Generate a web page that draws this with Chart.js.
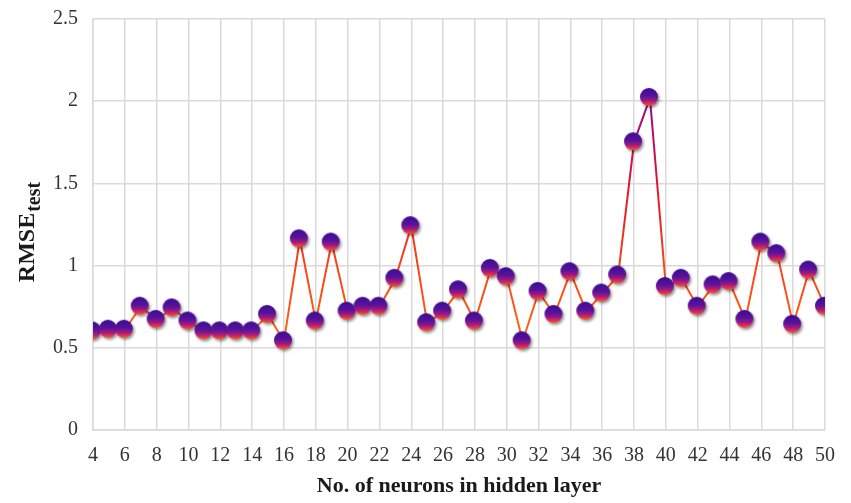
<!DOCTYPE html>
<html>
<head>
<meta charset="utf-8">
<script src="https://cdn.jsdelivr.net/npm/chart.js@4"></script>
<style>
  html, body { margin: 0; padding: 0; background: #fff; }
  #wrap { width: 851px; height: 503px; }
</style>
</head>
<body>
<div id="wrap"><canvas id="rmse"></canvas></div>
<script>
// neurons in hidden layer vs test RMSE
const neurons = [4, 5, 6, 7, 8, 9, 10, 11, 12, 13, 14, 15, 16, 17, 18, 19, 20, 21, 22, 23, 24, 25, 26, 27,
                 28, 29, 30, 31, 32, 33, 34, 35, 36, 37, 38, 39, 40, 41, 42, 43, 44, 45, 46, 47, 48, 49, 50];
const rmseTest = [0.60, 0.61, 0.61, 0.75, 0.67, 0.74, 0.66, 0.60, 0.60, 0.60, 0.60, 0.70, 0.54, 1.16, 0.66, 1.14,
                  0.72, 0.75, 0.75, 0.92, 1.24, 0.65, 0.72, 0.85, 0.66, 0.98, 0.93, 0.54, 0.84, 0.70, 0.96, 0.72,
                  0.83, 0.94, 1.75, 2.02, 0.87, 0.92, 0.75, 0.88, 0.90, 0.67, 1.14, 1.07, 0.64, 0.97, 0.75];
const yTicks = [0, 0.5, 1, 1.5, 2, 2.5];

const SERIF = '"Liberation Serif", "DejaVu Serif", serif';
const GRID = '#d9d9d9';

// round marker with a vertical purple -> orange fill and a soft shadow
function makeMarker() {
  const c = document.createElement('canvas');
  c.width = 28; c.height = 28;
  const g = c.getContext('2d');
  const r = 9, cx = 13, cy = 13;
  const grad = g.createLinearGradient(0, cy - r, 0, cy + r);
  grad.addColorStop(0, '#3a0c96');
  grad.addColorStop(0.45, '#581398');
  grad.addColorStop(0.7, '#9c1a88');
  grad.addColorStop(0.85, '#e02c50');
  grad.addColorStop(1, '#ff5a14');
  g.shadowColor = 'rgba(0,0,0,0.45)';
  g.shadowBlur = 3;
  g.shadowOffsetX = 1.5;
  g.shadowOffsetY = 2;
  g.beginPath();
  g.arc(cx, cy, r, 0, Math.PI * 2);
  g.fillStyle = grad;
  g.fill();
  return c;
}
const marker = makeMarker();

function lineGradient(context) {
  const chart = context.chart;
  const area = chart.chartArea;
  if (!area) return '#ff6a10';
  const y = chart.scales.y;
  const grad = chart.ctx.createLinearGradient(0, y.getPixelForValue(0.5), 0, y.getPixelForValue(2.0));
  grad.addColorStop(0, '#ff6810');
  grad.addColorStop(0.33, '#f84418');
  grad.addColorStop(0.66, '#e01530');
  grad.addColorStop(0.85, '#b80e62');
  grad.addColorStop(1, '#8a0a92');
  return grad;
}

// y title with subscript: RMSE_test
const yTitle = {
  id: 'yTitle',
  afterDraw(chart) {
    const { ctx, chartArea } = chart;
    const big = 'bold 24px ' + SERIF;
    const small = 'bold 20px ' + SERIF;
    ctx.save();
    ctx.font = big;
    const w1 = ctx.measureText('RMSE').width;
    ctx.font = small;
    const w2 = ctx.measureText('test').width;
    const cy = (chartArea.top + chartArea.bottom) / 2 + 8;
    ctx.translate(34, cy);
    ctx.rotate(-Math.PI / 2);
    ctx.fillStyle = '#1a1a1a';
    ctx.textBaseline = 'alphabetic';
    const x0 = -(w1 + w2) / 2;
    ctx.font = big;
    ctx.fillText('RMSE', x0, 0);
    ctx.font = small;
    ctx.fillText('test', x0 + w1 + 1, 6);
    ctx.restore();
  }
};

new Chart('rmse', {
  type: 'line',
  data: {
    labels: neurons,
    datasets: [{
      label: 'RMSE test',
      data: neurons.map((n, i) => ({ x: n, y: rmseTest[i] })),
      borderColor: lineGradient,
      borderWidth: 2,
      pointStyle: marker,
      pointRadius: 9,
      pointHoverRadius: 9,
      tension: 0,
      fill: false
    }]
  },
  options: {
    responsive: true,
    maintainAspectRatio: false,
    animation: false,
    layout: { padding: { top: 19, right: 26, left: 0, bottom: 0 } },
    plugins: {
      legend: { display: false },
      tooltip: { enabled: false }
    },
    scales: {
      x: {
        type: 'linear',
        min: 4,
        max: 50,
        afterFit: s => { s.height = 73; s.paddingLeft = 0; s.paddingRight = 0; },
        afterBuildTicks: s => { s.ticks = neurons.filter(n => n % 2 === 0).map(v => ({ value: v })); },
        ticks: {
          font: { family: SERIF, size: 20 },
          color: '#333',
          padding: 14,
          maxRotation: 0,
          autoSkip: false
        },
        grid: { color: GRID, lineWidth: 1.5, drawTicks: false },
        border: { color: GRID, width: 1.5 },
        title: {
          display: true,
          text: 'No. of neurons in hidden layer',
          font: { family: SERIF, size: 22, weight: 'bold' },
          color: '#1a1a1a',
          padding: { top: 0, bottom: 3 }
        }
      },
      y: {
        min: 0,
        max: 2.5,
        afterFit: s => { s.width = 93; s.paddingTop = 0; s.paddingBottom = 0; },
        afterBuildTicks: s => { s.ticks = yTicks.map(v => ({ value: v })); },
        ticks: {
          font: { family: SERIF, size: 20 },
          color: '#333',
          padding: 15,
          callback: v => String(v)
        },
        grid: { color: GRID, lineWidth: 1.5, drawTicks: false },
        border: { color: GRID, width: 1.5 }
      }
    }
  },
  plugins: [yTitle]
});
</script>
</body>
</html>
